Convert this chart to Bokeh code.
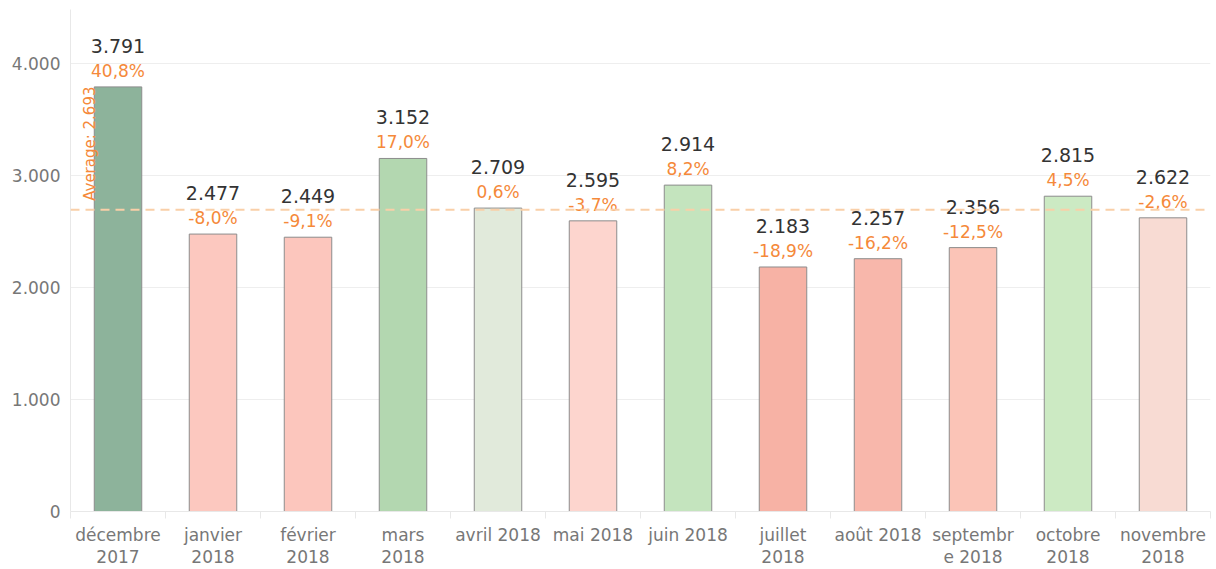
import math
from bokeh.plotting import figure
from bokeh.models import ColumnDataSource, FixedTicker, CustomJSTickFormatter, Span, Label
from bokeh.core.properties import value
from bokeh.embed import file_html
from bokeh.resources import INLINE

# ---- data ----
months = ["décembre\n2017", "janvier\n2018", "février\n2018", "mars\n2018", "avril 2018", "mai 2018",
          "juin 2018", "juillet\n2018", "août 2018", "septembr\ne 2018", "octobre\n2018", "novembre\n2018"]
values = [3791, 2477, 2449, 3152, 2709, 2595, 2914, 2183, 2257, 2356, 2815, 2622]
value_labels = ["3.791", "2.477", "2.449", "3.152", "2.709", "2.595", "2.914", "2.183", "2.257", "2.356", "2.815", "2.622"]
pct_labels = ["40,8%", "-8,0%", "-9,1%", "17,0%", "0,6%", "-3,7%", "8,2%", "-18,9%", "-16,2%", "-12,5%", "4,5%", "-2,6%"]
average = 2693
average_label = "Average: 2.693"
y_ticks = [0, 1000, 2000, 3000, 4000]

# ---- style ----
bar_colors = ["#8db39b", "#fcc8bf", "#fcc6bd", "#b3d7b0", "#e1eadb", "#fdd5ce",
              "#c4e4be", "#f7b2a5", "#f8b7ab", "#fbc4b7", "#cceac3", "#f8dbd3"]
FONT = "DejaVu Sans"
ORANGE = "#f5893a"

idx = list(range(len(values)))
src = ColumnDataSource(dict(x=idx, top=values, color=bar_colors, vlab=value_labels, plab=pct_labels))

p = figure(width=1216, height=569, x_range=(-0.5, len(values) - 0.5), y_range=(0, 4482),
           output_backend="svg", toolbar_location=None,
           min_border_left=70, min_border_right=6, min_border_top=9, min_border_bottom=58)
p.outline_line_color = None

p.vbar(x="x", top="top", width=0.5, fill_color="color", line_color="#8c8c8c", line_width=1, source=src)

avg_span = Span(location=average, dimension="width", line_color="#f9cfa8", line_width=2, line_dash="9 6")
p.add_layout(avg_span)

p.text(x="x", y="top", text="vlab", source=src, y_offset=-41, text_align="center", text_baseline="middle",
       text_font=value(FONT), text_font_size="19px", text_color="#333333")
p.text(x="x", y="top", text="plab", source=src, y_offset=-16, text_align="center", text_baseline="middle",
       text_font=value(FONT), text_font_size="17px", text_color=ORANGE)

p.add_layout(Label(x=-0.5, y=average, text=average_label, x_offset=19, y_offset=9, angle=math.pi / 2,
                   text_align="left", text_baseline="middle", text_font=FONT, text_font_size="15px",
                   text_color=ORANGE))

# grid
p.xgrid.grid_line_color = None
p.ygrid.grid_line_color = "#eeeeee"
p.ygrid.ticker = FixedTicker(ticks=y_ticks)

# y axis
p.yaxis.ticker = FixedTicker(ticks=y_ticks)
p.yaxis.formatter = CustomJSTickFormatter(code="""
const s = Math.round(tick).toString();
return s.replace(/\\B(?=(\\d{3})+(?!\\d))/g, '.');
""")
p.yaxis.axis_line_color = "#e8e8e8"
p.yaxis.major_tick_line_color = None
p.yaxis.major_tick_out = 0
p.yaxis.minor_tick_line_color = None
p.yaxis.major_label_standoff = 10
p.yaxis.major_label_text_font = FONT
p.yaxis.major_label_text_font_size = "17px"
p.yaxis.major_label_text_color = "#777777"

# x axis
p.xaxis.ticker = FixedTicker(ticks=idx, minor_ticks=[i - 0.5 for i in range(len(values) + 1)])
p.xaxis.formatter = CustomJSTickFormatter(args=dict(labels=months), code="""
const i = Math.round(tick);
return (i >= 0 && i < labels.length) ? labels[i] : '';
""")
p.xaxis.axis_line_color = "#e8e8e8"
p.xaxis.major_tick_line_color = None
p.xaxis.major_tick_out = 0
p.xaxis.major_tick_in = 0
p.xaxis.minor_tick_line_color = "#e8e8e8"
p.xaxis.minor_tick_in = 0
p.xaxis.minor_tick_out = 7
p.xaxis.major_label_standoff = 6
p.xaxis.major_label_text_line_height = 1.1
p.xaxis.major_label_text_font = FONT
p.xaxis.major_label_text_font_size = "17px"
p.xaxis.major_label_text_color = "#777777"

open("out.html", "w").write(file_html(p, INLINE))
